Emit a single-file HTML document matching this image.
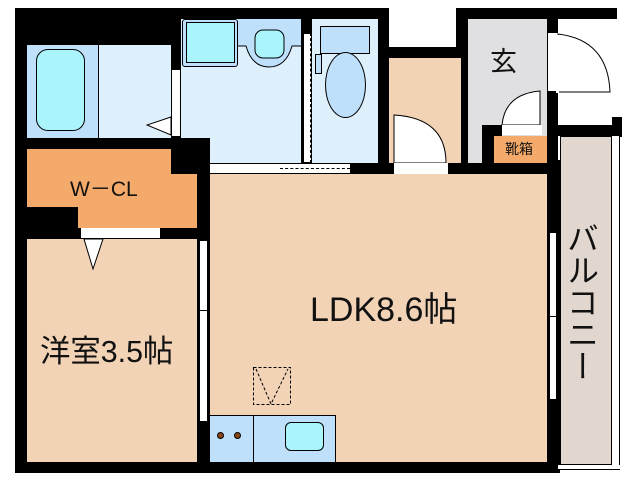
<!DOCTYPE html>
<html><head><meta charset="utf-8"><style>
body{margin:0;width:638px;height:480px;background:#fff;position:relative;overflow:hidden;font-family:"Liberation Sans","Noto Sans CJK JP",sans-serif}
div{position:absolute;box-sizing:border-box}
.k{background:#000}
.t{color:#111;white-space:nowrap;line-height:1}
</style></head><body>
<div class="k" style="left:15px;top:8px;width:296px;height:465px"></div>
<div class="k" style="left:301px;top:8px;width:88px;height:166px"></div>
<div class="k" style="left:378px;top:47px;width:180px;height:426px"></div>
<div class="k" style="left:456px;top:8px;width:161px;height:11px"></div>
<div class="k" style="left:456px;top:8px;width:12px;height:50px"></div>
<div class="k" style="left:547px;top:8px;width:11px;height:465px"></div>
<div class="k" style="left:558px;top:125px;width:64px;height:11px"></div>
<div class="k" style="left:612px;top:117px;width:10px;height:20px"></div>
<div class="k" style="left:300px;top:160px;width:260px;height:313px"></div>
<div style="left:27px;top:45px;width:71px;height:93px;background:#bfe0fb"></div>
<div style="left:36px;top:49px;width:49px;height:82px;background:#aaf4fc;border:1px solid #000;border-radius:12px"></div>
<div style="left:98px;top:45px;width:73px;height:93px;background:#dff0fd;border-left:1px solid #000"></div>
<div style="left:171px;top:69px;width:10px;height:68px;background:#fff;border:1px solid #000"></div>
<svg style="position:absolute;left:145px;top:115px" width="28" height="22"><polygon points="26,2 2,10 26,20" fill="#fff" stroke="#000"/></svg>
<div style="left:181px;top:19px;width:120px;height:144px;background:#dff0fd"></div>
<div style="left:182px;top:19px;width:56px;height:48px;background:#bfe0fb;border:1px solid #000;border-radius:3px"></div>
<div style="left:186px;top:22px;width:49px;height:41px;background:#aaf4fc;border:1px solid #000"></div>
<svg style="position:absolute;left:238px;top:19px" width="63" height="50"><path d="M0,0H63V27H54Q48,48 31,48Q14,48 8,27H0Z" fill="#bfe0fb"/><path d="M0,27H8Q14,48 31,48Q48,48 54,27H63" fill="none" stroke="#000"/><rect x="17" y="11" width="29" height="28" rx="8" fill="#aaf4fc" stroke="#000"/></svg>
<div style="left:303px;top:33px;width:8px;height:130px;background:#fff;border:1px solid #000;border-right:1px dashed #000"></div>
<div style="left:210px;top:163px;width:140px;height:11px;background:#fff;border-top:1px solid #000;border-bottom:1px solid #000"></div>
<div style="left:280px;top:168px;width:70px;height:0;border-top:1px dashed #000"></div>
<div style="left:312px;top:19px;width:66px;height:144px;background:#dff0fd"></div>
<div style="left:320px;top:26px;width:50px;height:28px;background:#bfe0fb;border:1px solid #000"></div>
<div style="left:315px;top:54px;width:7px;height:20px;background:#bfe0fb;border:1px solid #000"></div>
<div style="left:325px;top:52px;width:41px;height:66px;background:#bfe0fb;border:1px solid #000;border-radius:50%"></div>
<div style="left:389px;top:58px;width:73px;height:105px;background:#f2d3b6;border-right:1px solid #000"></div>
<svg style="position:absolute;left:393px;top:114px" width="56" height="62"><path d="M1,1Q53,4 53,49H1Z" fill="#fff" stroke="#000"/><rect x="1" y="49" width="54" height="11" fill="#fff"/></svg>
<div style="left:468px;top:19px;width:79px;height:144px;background:#e0e0e2"></div>
<div class="k" style="left:482px;top:125px;width:20px;height:48px"></div>
<svg style="position:absolute;left:500px;top:90px" width="48" height="47"><path d="M40,1Q5,4 2,35H40Z" fill="#fff" stroke="#000"/><rect x="2" y="35" width="40" height="10" fill="#fff"/></svg>
<div style="left:494px;top:136px;width:53px;height:27px;background:#f3aa6b"></div>
<div class="t" style="left:505px;top:142px;font-size:14px">靴箱</div>
<div class="t" style="left:490px;top:49px;font-size:27px">玄</div>
<div style="left:548px;top:32px;width:10px;height:60px;background:#fff;border-top:1px solid #000;border-bottom:1px solid #000"></div>
<svg style="position:absolute;left:556px;top:32px" width="58" height="62"><path d="M2,2Q52,8 54,60H2Z" fill="#fff" stroke="#000"/><rect x="0" y="3" width="3" height="58" fill="#fff"/></svg>
<div class="k" style="left:15px;top:138px;width:195px;height:100px"></div>
<div style="left:27px;top:149px;width:144px;height:58px;background:#f3aa6b"></div>
<div style="left:78px;top:174px;width:119px;height:54px;background:#f3aa6b"></div>
<div class="t" style="left:70px;top:179px;font-size:21px">W－CL</div>
<div style="left:81px;top:228px;width:79px;height:11px;background:#fff;border-bottom:1px solid #000"></div>
<div style="left:27px;top:239px;width:170px;height:223px;background:#f2d3b6"></div>
<svg style="position:absolute;left:83px;top:238px" width="22" height="34"><polygon points="1,1 20,1 10,31" fill="#fff" stroke="#000"/></svg>
<div style="left:199px;top:240px;width:9px;height:182px;background:#fff;border:1px solid #000"></div>
<div style="left:199px;top:310px;width:9px;height:0;border-top:1px solid #000"></div>
<div class="t" style="left:40px;top:336px;font-size:31px;transform:scaleX(0.98);transform-origin:left">洋室3.5帖</div>
<div style="left:210px;top:174px;width:337px;height:288px;background:#f2d3b6"></div>
<div style="left:549px;top:232px;width:8px;height:168px;background:#fff;border:1px solid #000"></div>
<div style="left:549px;top:316px;width:8px;height:0;border-top:1px solid #000"></div>
<div class="t" style="left:310px;top:293px;font-size:34px">LDK8.6帖</div>
<svg style="position:absolute;left:252px;top:366px" width="42" height="40"><rect x="1.5" y="1.5" width="37" height="37" fill="none" stroke="#000" stroke-dasharray="3,2"/><path d="M4,3L19,38L36,3" fill="none" stroke="#000" stroke-dasharray="3,2"/></svg>
<div style="left:209px;top:415px;width:127px;height:48px;background:#bfe0fb;border:1px solid #000"></div>
<div style="left:253px;top:415px;width:1px;height:48px;background:#000"></div>
<div style="left:285px;top:422px;width:39px;height:29px;background:#aaf4fc;border:1px solid #000;border-radius:6px"></div>
<div style="left:217px;top:432px;width:7px;height:7px;background:#8b4513;border-radius:50%;border:1px solid #000"></div>
<div style="left:234px;top:432px;width:7px;height:7px;background:#8b4513;border-radius:50%;border:1px solid #000"></div>
<div style="left:560px;top:136px;width:52px;height:329px;background:#e2d7cf;border:1px solid #000"></div>
<div style="left:612px;top:136px;width:8px;height:334px;background:#fff;border-right:1px solid #000;border-bottom:1px solid #000"></div>
<div style="left:558px;top:465px;width:62px;height:5px;background:#fff;border-bottom:1px solid #000"></div>
<div class="t" style="left:565px;top:222px;font-size:32px;writing-mode:vertical-rl;line-height:32px">バルコニー</div>
</body></html>
